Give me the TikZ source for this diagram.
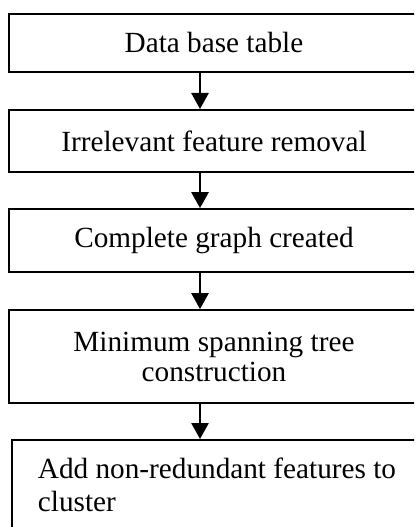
\documentclass[tikz,border=0pt]{standalone}
\usepackage{fontspec}
\setmainfont{Liberation Serif}
\usepackage{tikz}
\usetikzlibrary{positioning, arrows.meta}
\tikzstyle{stage} = [rectangle, minimum width=10.25cm, minimum
height=1.5cm, text centered, draw=black, line width=0.05cm,
font=\fontsize{20.8}{21.3}\selectfont]
\tikzstyle{arrow} =
[line width=0.05cm, -{Triangle[width=0.43cm, length=0.4cm]}]

\begin{document}
\begin{tikzpicture}[node distance=2.45cm]

\useasboundingbox (-5.35,1.075) rectangle (5.0,-12.1);
\clip (-5.35,1.075) rectangle (5.0,-12.1);

\node(table)[stage, minimum height=1.45cm]{Data base table};
\node(removal)[stage, below of=table, minimum height=1.55cm]{Irrelevant
feature removal};
\node(graph)[stage, below of=removal, yshift=-0.04cm, minimum
height=1.575cm]{Complete graph created};
\node(mst)[stage, below of=graph, yshift=-0.45cm, minimum height=2.325cm,
align=center]{Minimum spanning tree\\construction};
\node(cluster)[stage, below of=mst, xshift=0.075cm, yshift=-0.76cm, minimum
height=2.25cm, align=left,
font=\fontsize{20.8}{23.4}\selectfont]{Add non-redundant features to\\cluster};

\draw[arrow]([xshift=-0.35cm]table.south) -- ([xshift=-0.35cm]removal.north);
\draw[arrow]([xshift=-0.35cm]removal.south) -- ([xshift=-0.35cm]graph.north);
\draw[arrow]([xshift=-0.35cm]graph.south) -- ([xshift=-0.35cm]mst.north);
\draw[arrow]([xshift=-0.35cm]mst.south) -- ([xshift=-0.35cm]mst.south |-
cluster.north);

\end{tikzpicture}
\end{document}
